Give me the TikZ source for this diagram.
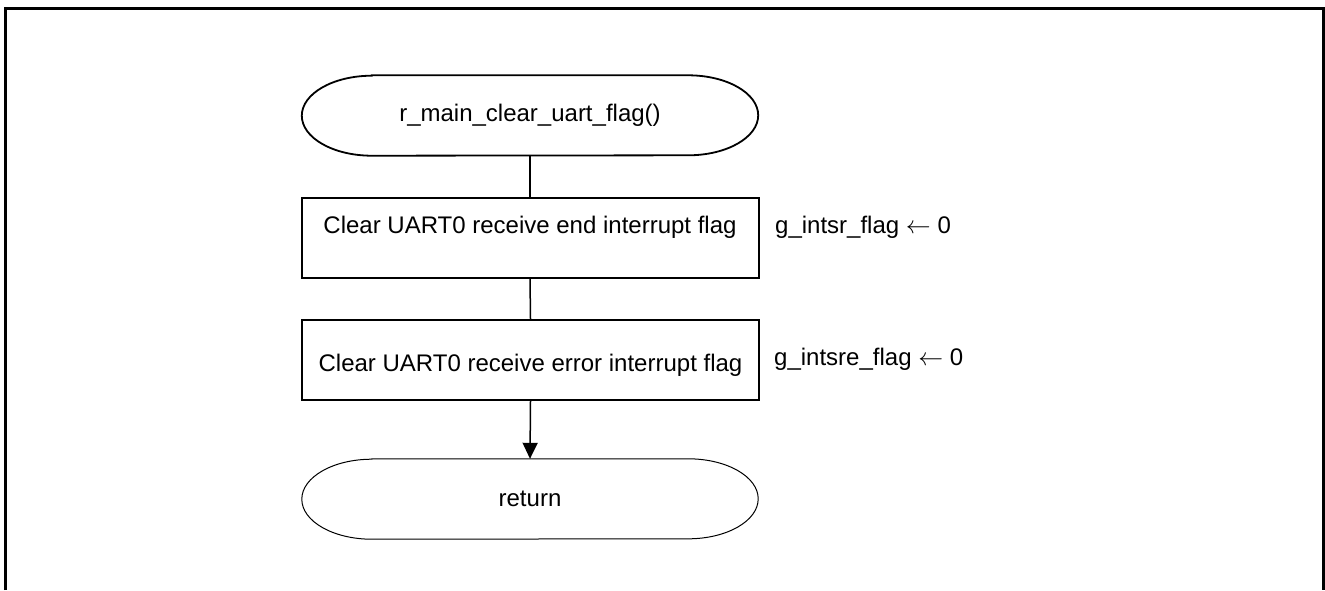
\documentclass[tikz,border=0pt]{standalone}
\usepackage{fontspec}
\setmainfont{Liberation Sans}
\usetikzlibrary{arrows.meta}
\newcommand{\mystadium}[2]{%
  \draw[line width=#2] ([xshift=70pt]#1.north west) -- ([xshift=-70pt]#1.north east)
    arc[start angle=90,end angle=-90,x radius=70pt,y radius=40pt]
    -- ([xshift=70pt]#1.south west)
    arc[start angle=270,end angle=90,x radius=70pt,y radius=40pt] -- cycle;}
\tikzset{
  txt/.style={font=\fontsize{24}{28}\selectfont},
  term/.style={txt, draw=none, minimum width=456pt, minimum height=80pt, inner sep=0pt},
  procbox/.style={txt, draw, line width=2pt, minimum width=457pt, minimum height=80pt, inner sep=0pt},
  conn/.style={line width=1.5pt},
  note/.style={txt, anchor=base west, inner sep=0pt},
}
\begin{document}
\begin{tikzpicture}[x=1pt,y=-1pt]
\useasboundingbox (0,0) rectangle (1325,590);
\draw[line width=3pt] (5.5,590) -- (5.5,8) -- (1323.5,8) -- (1323.5,590);

\node[term] (start) at (530,115.5) {r\_main\_clear\_uart\_flag()};
\mystadium{start}{1.8pt}
\node[procbox, text height=17pt, text depth=27pt] (b1) at (530,238) {Clear UART0 receive end interrupt flag};
\node[procbox, text height=22pt, text depth=0pt] (b2) at (530.5,360) {Clear UART0 receive error interrupt flag};
\node[term] (ret) at (530,499) {return};
\mystadium{ret}{1pt}

\node[note] (n1) at (775,233) {g\_intsr\_flag $\leftarrow$ 0};
\node[note] (n2) at (774,365) {g\_intsre\_flag $\leftarrow$ 0};

\draw[conn] (start.south) -- (b1.north);
\draw[conn] (b1.south) -- (b2.north);
\draw[conn, -{Triangle[length=16pt,width=15pt]}] (b2.south) -- (ret.north);
\end{tikzpicture}
\end{document}
